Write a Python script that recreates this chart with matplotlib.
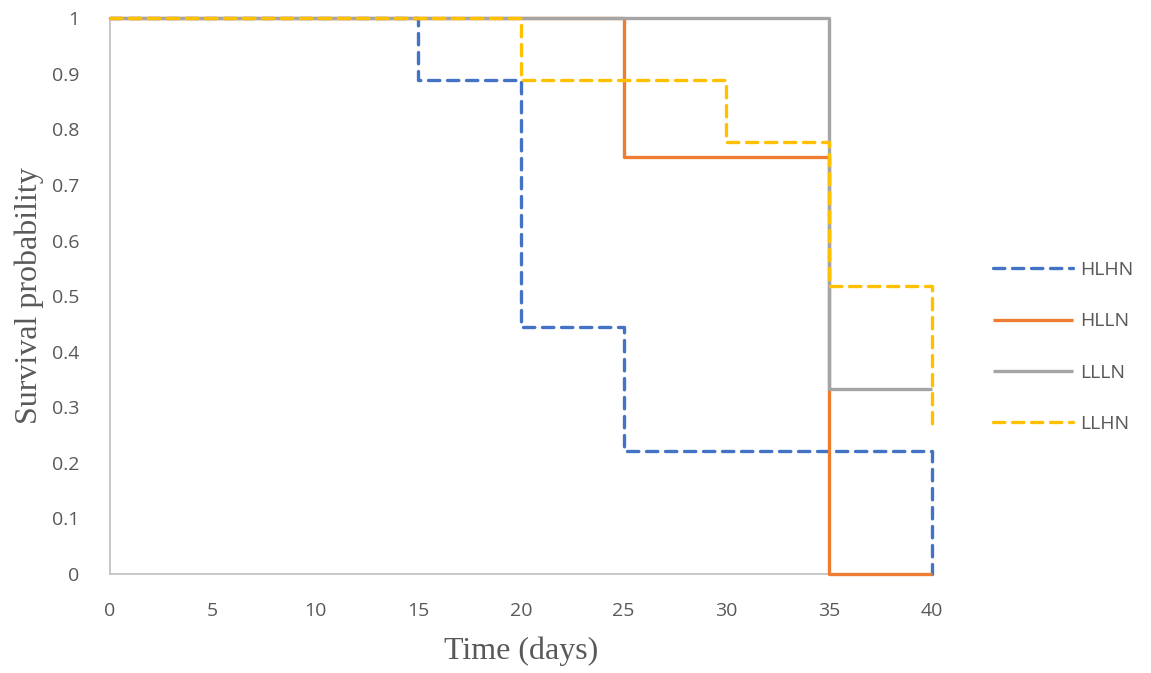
import matplotlib
matplotlib.use("Agg")
import matplotlib.pyplot as plt

# Kaplan-Meier style survival steps (days, probability)
HLHN_T = [0, 15, 20, 25, 40]
HLHN_P = [1.0, 0.889, 0.444, 0.222, 0.0]
HLLN_T = [0, 25, 35, 40]
HLLN_P = [1.0, 0.75, 0.0, 0.0]
LLLN_T = [0, 35, 40]
LLLN_P = [1.0, 0.333, 0.333]
LLHN_T = [0, 20, 30, 35, 40]
LLHN_P = [1.0, 0.889, 0.778, 0.519, 0.259]

X_TICKS = list(range(0, 45, 5))
Y_TICKS = [i / 10 for i in range(11)]
Y_LABELS = ["0"] + [f"{v:.1f}" for v in Y_TICKS[1:-1]] + ["1"]

DASH = (0, (3.4, 2.3))
series = [
    ("HLHN", HLHN_T, HLHN_P, "#4472C4", DASH),
    ("HLLN", HLLN_T, HLLN_P, "#ED7D31", "-"),
    ("LLLN", LLLN_T, LLLN_P, "#A5A5A5", "-"),
    ("LLHN", LLHN_T, LLHN_P, "#FFC000", DASH),
]

fig = plt.figure(figsize=(11.51, 6.73), dpi=100)
ax = fig.add_axes([0.0956, 0.147, 0.7138, 0.826])

for name, t, p, color, ls in series:
    ax.step(t, p, where="post", color=color, linestyle=ls, linewidth=2.4,
            dash_capstyle="round", solid_capstyle="butt", label=name,
            clip_on=False, zorder=3)

ax.set_xlim(0, 40)
ax.set_ylim(0, 1)
ax.set_xticks(X_TICKS)
ax.set_yticks(Y_TICKS)
ax.set_yticklabels(Y_LABELS)
ax.tick_params(length=0, labelsize=14, labelcolor="#595959")
ax.tick_params(axis="x", pad=20)
ax.tick_params(axis="y", pad=22)
for lab in ax.get_xticklabels() + ax.get_yticklabels():
    lab.set_fontfamily("Open Sans")

for side in ("top", "right"):
    ax.spines[side].set_visible(False)
for side in ("left", "bottom"):
    ax.spines[side].set_color("#BFBFBF")
    ax.spines[side].set_linewidth(1.2)

ax.set_xlabel("Time (days)", fontfamily="Liberation Serif", fontsize=23, color="#595959", labelpad=12)
ax.set_ylabel("Survival probability", fontfamily="Liberation Serif", fontsize=23, color="#595959", labelpad=6)

leg = fig.legend(loc="center left", bbox_to_anchor=(0.8627, 0.4844), bbox_transform=fig.transFigure,
                 frameon=False, borderpad=0, borderaxespad=0,
                 handlelength=4.1, labelspacing=1.71, handletextpad=0.36,
                 prop={"family": "Open Sans", "size": 14})
for text in leg.get_texts():
    text.set_color("#595959")

fig.savefig("out.png")
